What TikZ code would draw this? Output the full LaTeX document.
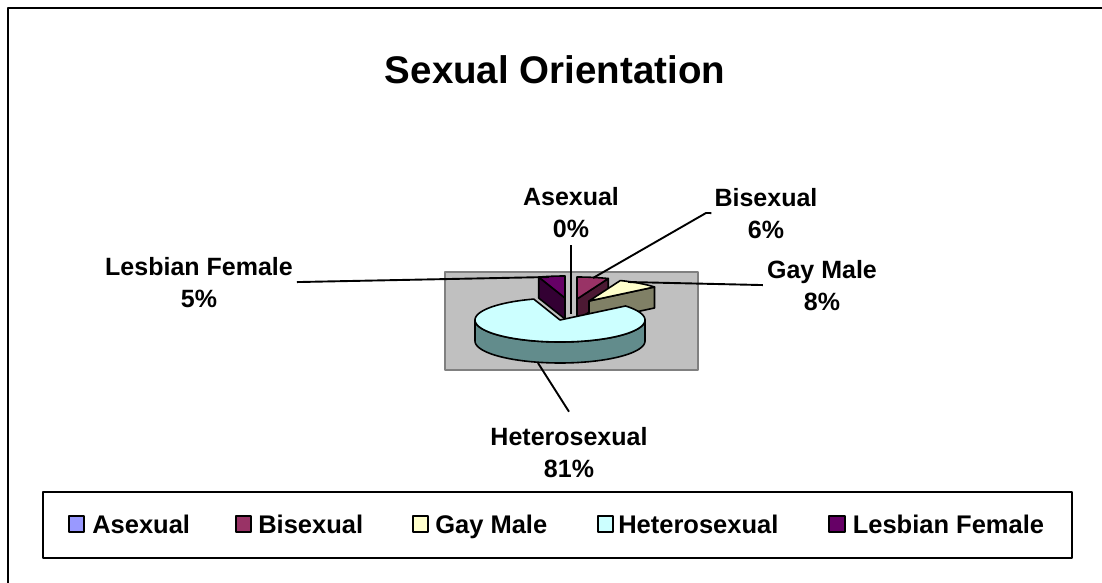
\documentclass[tikz,border=0pt]{standalone}
\usepackage{fontspec}
\setmainfont{Liberation Sans}
\definecolor{asxTop}{HTML}{9999FF}
\definecolor{bisTop}{HTML}{993366}
\definecolor{bisSide}{HTML}{4C1933}
\definecolor{gayTop}{HTML}{FFFFCC}
\definecolor{gaySide}{HTML}{808066}
\definecolor{hetTop}{HTML}{CCFFFF}
\definecolor{hetSide}{HTML}{628C8C}
\definecolor{lesTop}{HTML}{660066}
\definecolor{lesSide}{HTML}{330033}
\definecolor{plotFill}{HTML}{C0C0C0}
\definecolor{plotEdge}{HTML}{808080}
\begin{document}
\begin{tikzpicture}[x=1pt,y=-1pt,line join=round,
  face/.style={draw=black,line width=1.6pt},
  lbl/.style={font=\fontsize{25}{32}\selectfont\bfseries,align=center,inner sep=0pt,anchor=base},
  leader/.style={draw=black,line width=1.9pt},
  key/.style={draw=black,line width=1.6pt,minimum size=15.5pt,inner sep=0pt},
  keytext/.style={font=\fontsize{25.5}{30}\selectfont\bfseries,inner sep=0pt,anchor=base west},
]
\useasboundingbox (0,0) rectangle (1102,583);
\fill[white] (0,0) rectangle (1102,583);

% chart frame
\draw[line width=2.2pt] (8,583) -- (8,8) -- (1102,8);

% title
\node[font=\fontsize{38.5}{40}\selectfont\bfseries,inner sep=0pt,anchor=base] (title) at (555,84) {Sexual Orientation};

% plot area
\draw[fill=plotFill,draw=plotEdge,line width=2pt] (445,272) rectangle (698,370);

% 3-D pie: radius 85 x 22, thickness 21; angles clockwise from 12 o'clock
% Lesbian Female (342 -- 360), apex (565,298)
\path[face,fill=lesSide] (565,298) -- ({565+85*sin(342)},{298-22*cos(342)}) -- ++(0,21) -- (565,319) -- cycle;
\path[face,fill=lesTop] (565,298) -- plot[domain=342:360,samples=10] ({565+85*sin(\x)},{298-22*cos(\x)}) -- cycle;
% Bisexual (0 -- 21.6), apex (577,299)
\path[face,fill=bisSide] (577,299) -- ({577+85*sin(21.6)},{299-22*cos(21.6)}) -- ++(0,21) -- (577,320) -- cycle;
\path[face,fill=bisTop] (577,299) -- plot[domain=0:21.6,samples=10] ({577+85*sin(\x)},{299-22*cos(\x)}) -- cycle;
% Gay Male (21.6 -- 50.4), apex (589,301)
\path[face,fill=gaySide] (589,301) -- ({589+85*sin(50.4)},{301-22*cos(50.4)}) -- ++(0,21) -- (589,322) -- cycle;
\path[face,fill=gayTop] (589,301) -- plot[domain=21.6:50.4,samples=12] ({589+85*sin(\x)},{301-22*cos(\x)}) -- cycle;
% Heterosexual (50.4 -- 342), apex (560,320)
\path[face,fill=hetSide] plot[domain=90:270,samples=60] ({560+85*sin(\x)},{320-22*cos(\x)})
  -- plot[domain=270:90,samples=60] ({560+85*sin(\x)},{341-22*cos(\x)}) -- cycle;
\path[face,fill=hetTop] (560,320) -- plot[domain=50.4:342,samples=90] ({560+85*sin(\x)},{320-22*cos(\x)}) -- cycle;

% leader end points on the slices
\coordinate (asxPt) at (571,314);
\coordinate (bisPt) at (593,278);
\coordinate (bisKnee) at (706,213);
\coordinate (gayPt) at (628,282);
\coordinate (lesPt) at (549,277);
\coordinate (hetPt) at (538,363);
\coordinate (hetKnee) at (566,407);

% data labels (anchored at the baseline of the percentage line)
\node[lbl] (asxLbl) at (571,237) {Asexual\\0\%};
\node[lbl] (bisLbl) at (766,238) {Bisexual\\6\%};
\node[lbl] (gayLbl) at (822,310) {Gay Male\\8\%};
\node[lbl] (lesLbl) at (199,307) {Lesbian Female\\5\%};
\node[lbl] (hetLbl) at (569,477) {Heterosexual\\81\%};

% leader lines
\draw[leader] ([yshift=-8pt]asxLbl.south) -- (asxPt);
\draw[leader] (bisPt) -- (bisKnee) -- ([xshift=-3pt]bisLbl.west);
\draw[leader] (gayPt) -- ([xshift=-4pt]gayLbl.west);
\draw[leader] ([xshift=4pt]lesLbl.east) -- (lesPt);
\draw[leader] (hetPt) -- (hetKnee) -- ([yshift=15pt]hetLbl.north);

% legend
\draw[line width=1.8pt] (43,492) rectangle (1072,558);
\coordinate (keyBase) at (0,533);
\node[key,fill=asxTop] (kAsx) at (76.5,524) {};
\node[key,fill=bisTop] (kBis) at (243.5,524) {};
\node[key,fill=gayTop] (kGay) at (420.5,524) {};
\node[key,fill=hetTop] (kHet) at (605.5,524) {};
\node[key,fill=lesTop] (kLes) at (837,524) {};
\node[keytext] (tAsx) at ([xshift=7pt]kAsx.east |- keyBase) {Asexual};
\node[keytext] (tBis) at ([xshift=6pt]kBis.east |- keyBase) {Bisexual};
\node[keytext] (tGay) at ([xshift=6pt]kGay.east |- keyBase) {Gay Male};
\node[keytext] (tHet) at ([xshift=4pt]kHet.east |- keyBase) {Heterosexual};
\node[keytext] (tLes) at ([xshift=7pt]kLes.east |- keyBase) {Lesbian Female};
\end{tikzpicture}
\end{document}
